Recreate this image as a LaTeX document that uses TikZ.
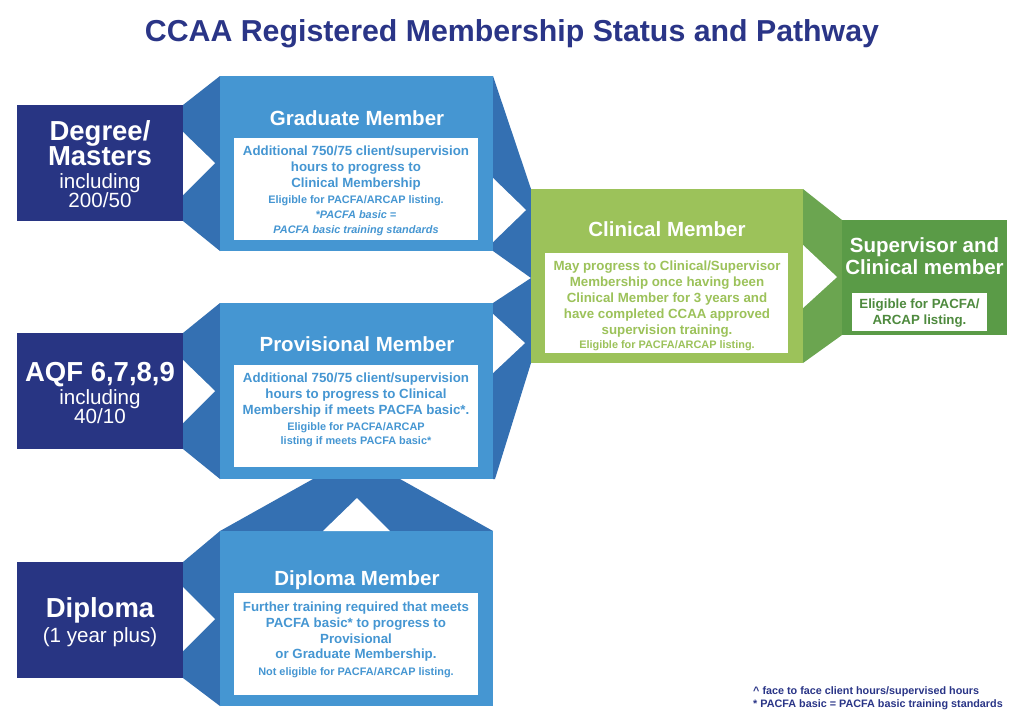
\documentclass[tikz,border=0pt]{standalone}
\usepackage{fontspec}
\setmainfont{Liberation Sans}
\definecolor{cnavy}{HTML}{283583}
\definecolor{ctitle}{HTML}{2A3587}
\definecolor{clblue}{HTML}{4596D2}
\definecolor{cdblue}{HTML}{3470B2}
\definecolor{cgreen}{HTML}{9CC25A}
\definecolor{cgconn}{HTML}{6BA550}
\definecolor{cdgreen}{HTML}{5A9B47}
\definecolor{cgtext}{HTML}{4E8A3E}
\tikzset{
  bigw/.style={text=white, font=\bfseries\fontsize{27.5}{30}\selectfont, anchor=base, inner sep=0},
  regw/.style={text=white, font=\fontsize{20.6}{24}\selectfont, anchor=base, inner sep=0},
  ttlw/.style={text=white, font=\bfseries\fontsize{20.5}{24}\selectfont, anchor=base, inner sep=0},
  bl/.style={text=clblue, font=\bfseries\fontsize{13.3}{16}\selectfont, anchor=base, inner sep=0},
  bls/.style={text=clblue, font=\bfseries\fontsize{10.9}{13}\selectfont, anchor=base, inner sep=0},
  blsi/.style={text=clblue, font=\bfseries\itshape\fontsize{10.9}{13}\selectfont, anchor=base, inner sep=0},
  gl/.style={text=cgreen, font=\bfseries\fontsize{13.3}{16}\selectfont, anchor=base, inner sep=0},
  gls/.style={text=cgreen, font=\bfseries\fontsize{10.9}{13}\selectfont, anchor=base, inner sep=0},
  dgl/.style={text=cgtext, font=\bfseries\fontsize{13.3}{16}\selectfont, anchor=base, inner sep=0},
  foot/.style={text=ctitle, font=\bfseries\fontsize{10.8}{12}\selectfont, anchor=base west, inner sep=0},
}
\begin{document}
\begin{tikzpicture}[x=1pt,y=-1pt]
\useasboundingbox[fill=white] (0,0) rectangle (1024,724);
% title
\node[text=ctitle, font=\bfseries\fontsize{30.3}{34}\selectfont, anchor=base, inner sep=0] (title) at (512,41) {CCAA Registered Membership Status and Pathway};
% navy boxes
\fill[cnavy] (17,105) rectangle (183,221);
\fill[cnavy] (17,333) rectangle (183,449);
\fill[cnavy] (17,562) rectangle (183,678);
% left connectors
\fill[cdblue] (183,105) -- (220,76) -- (220,251) -- (183,221) -- cycle;
\fill[cdblue] (183,333) -- (220,303) -- (220,479) -- (183,449) -- cycle;
\fill[cdblue] (183,562) -- (220,531) -- (220,706) -- (183,678) -- cycle;
% right / vertical connectors
\fill[cdblue] (493,76) -- (531,189) -- (531,278) -- (493,251) -- cycle;
\fill[cdblue] (493,303) -- (531,278) -- (531,363) -- (495,479) -- (493,479) -- cycle;
\fill[cdblue] (313,479) -- (400,479) -- (493,531) -- (220,531) -- cycle;
% light blue boxes
\fill[clblue] (220,76) rectangle (493,251);
\fill[clblue] (220,303) rectangle (493,479);
\fill[clblue] (220,531) rectangle (493,706);
% green
\fill[cgconn] (803,189) -- (842,220) -- (842,335) -- (803,363) -- cycle;
\fill[cgreen] (531,189) rectangle (803,363);
\fill[cdgreen] (842,220) rectangle (1007,335);
% white arrows
\fill[white] (183,132) -- (215,163) -- (183,195) -- cycle;
\fill[white] (183,360) -- (215,391) -- (183,423) -- cycle;
\fill[white] (183,587) -- (215,619) -- (183,651) -- cycle;
\fill[white] (493,178) -- (526,210) -- (493,242) -- cycle;
\fill[white] (493,314) -- (525,343) -- (493,373) -- cycle;
\fill[white] (323,531) -- (357,498) -- (390,531) -- cycle;
\fill[white] (803,245) -- (837,277) -- (803,308) -- cycle;
% panels
\fill[white] (234,138) rectangle (478,240);
\fill[white] (234,365) rectangle (478,467);
\fill[white] (234,593) rectangle (478,695);
\fill[white] (545,253) rectangle (788,353);
\fill[white] (852,293) rectangle (987,331);
% left texts
\node[bigw] (d1) at (100,140) {Degree/};
\node[bigw] (d2) at (100,165) {Masters};
\node[regw] (d3) at (100,188) {including};
\node[regw] (d4) at (100,207.5) {200/50};
\node[bigw] (a1) at (100,381) {AQF 6,7,8,9};
\node[regw] (a2) at (100,404) {including};
\node[regw] (a3) at (100,423) {40/10};
\node[bigw] (p1) at (100,617) {Diploma};
\node[regw] (p2) at (100,642) {(1 year plus)};
% graduate
\node[ttlw] (gt) at (357,125) {Graduate Member};
\node[bl] (g1) at (356,155) {Additional 750/75 client/supervision};
\node[bl] (g2) at (356,171) {hours to progress to};
\node[bl] (g3) at (356,187) {Clinical Membership};
\node[bls] (g4) at (356,203) {Eligible for PACFA/ARCAP listing.};
\node[blsi] (g5) at (356,218) {*PACFA basic =};
\node[blsi] (g6) at (356,233) {PACFA basic training standards};
% provisional
\node[ttlw] (pt) at (357,351) {Provisional Member};
\node[bl] (q1) at (356,382) {Additional 750/75 client/supervision};
\node[bl] (q2) at (356,398) {hours to progress to Clinical};
\node[bl] (q3) at (356,414) {Membership if meets PACFA basic*.};
\node[bls] (q4) at (356,430) {Eligible for PACFA/ARCAP};
\node[bls] (q5) at (356,444) {listing if meets PACFA basic*};
% diploma member
\node[ttlw] (dt) at (357,585) {Diploma Member};
\node[bl] (m1) at (356,611) {Further training required that meets};
\node[bl] (m2) at (356,627) {PACFA basic* to progress to};
\node[bl] (m3) at (356,643) {Provisional};
\node[bl] (m4) at (356,658) {or Graduate Membership.};
\node[bls] (m5) at (356,675) {Not eligible for PACFA/ARCAP listing.};
% clinical
\node[ttlw] (ct) at (667,236) {Clinical Member};
\node[gl] (c1) at (667,270) {May progress to Clinical/Supervisor};
\node[gl] (c2) at (667,286) {Membership once having been};
\node[gl] (c3) at (667,302) {Clinical Member for 3 years and};
\node[gl] (c4) at (667,318) {have completed CCAA approved};
\node[gl] (c5) at (667,334) {supervision training.};
\node[gls] (c6) at (667,348.5) {Eligible for PACFA/ARCAP listing.};
% supervisor
\node[ttlw] (s1) at (924.5,252) {Supervisor and};
\node[ttlw] (s2) at (924.5,274) {Clinical member};
\node[dgl] (s3) at (919.5,308) {Eligible for PACFA/};
\node[dgl] (s4) at (919.5,324) {ARCAP listing.};
% footnotes
\node[foot] (f1) at (753,694) {\textasciicircum\ face to face client hours/supervised hours};
\node[foot] (f2) at (753,707) {* PACFA basic = PACFA basic training standards};
\end{tikzpicture}
\end{document}
